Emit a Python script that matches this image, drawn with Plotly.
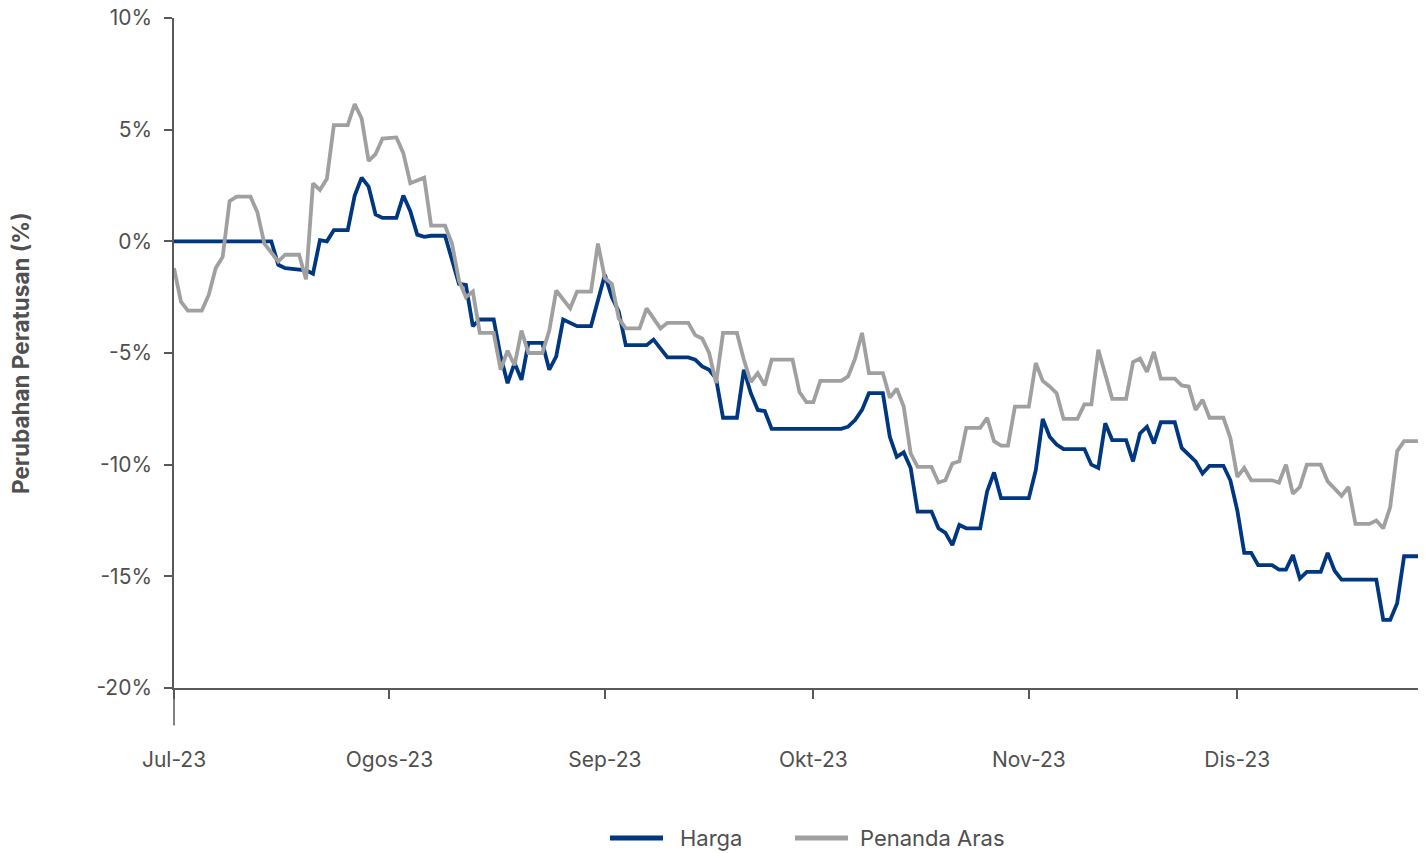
import plotly.graph_objects as go

# ---- data ----
harga_dates = [
    "2023-07-01", "2023-07-15", "2023-07-16", "2023-07-17", "2023-07-20", "2023-07-21", "2023-07-22",
    "2023-07-23", "2023-07-24", "2023-07-26", "2023-07-27", "2023-07-28", "2023-07-29", "2023-07-30",
    "2023-07-31", "2023-08-02", "2023-08-03", "2023-08-04", "2023-08-05", "2023-08-06", "2023-08-07",
    "2023-08-09", "2023-08-11", "2023-08-12", "2023-08-13", "2023-08-14", "2023-08-16", "2023-08-17",
    "2023-08-18", "2023-08-19", "2023-08-20", "2023-08-21", "2023-08-23", "2023-08-24", "2023-08-25",
    "2023-08-26", "2023-08-28", "2023-08-30", "2023-09-01", "2023-09-02", "2023-09-03", "2023-09-04",
    "2023-09-07", "2023-09-08", "2023-09-10", "2023-09-13", "2023-09-14", "2023-09-15", "2023-09-16",
    "2023-09-17", "2023-09-18", "2023-09-20", "2023-09-21", "2023-09-22", "2023-09-23", "2023-09-24",
    "2023-09-25", "2023-10-05", "2023-10-06", "2023-10-07", "2023-10-08", "2023-10-09", "2023-10-11",
    "2023-10-12", "2023-10-13", "2023-10-14", "2023-10-15", "2023-10-16", "2023-10-18", "2023-10-19",
    "2023-10-20", "2023-10-21", "2023-10-22", "2023-10-23", "2023-10-25", "2023-10-26", "2023-10-27",
    "2023-10-28", "2023-11-01", "2023-11-02", "2023-11-03", "2023-11-04", "2023-11-05", "2023-11-06",
    "2023-11-09", "2023-11-10", "2023-11-11", "2023-11-12", "2023-11-13", "2023-11-15", "2023-11-16",
    "2023-11-17", "2023-11-18", "2023-11-19", "2023-11-20", "2023-11-22", "2023-11-23", "2023-11-24",
    "2023-11-25", "2023-11-26", "2023-11-27", "2023-11-29", "2023-11-30", "2023-12-01", "2023-12-02",
    "2023-12-03", "2023-12-04", "2023-12-06", "2023-12-07", "2023-12-08", "2023-12-09", "2023-12-10",
    "2023-12-11", "2023-12-13", "2023-12-14", "2023-12-15", "2023-12-16", "2023-12-21", "2023-12-22",
    "2023-12-23", "2023-12-24", "2023-12-25", "2023-12-27",
]
harga_values = [
    0.0, 0.0, -1.05, -1.2, -1.3, -1.45, 0.05,
    0.0, 0.5, 0.5, 2.05, 2.85, 2.45, 1.2,
    1.05, 1.05, 2.05, 1.35, 0.3, 0.2, 0.25,
    0.25, -1.9, -1.95, -3.8, -3.5, -3.5, -5.15,
    -6.35, -5.45, -6.2, -4.55, -4.55, -5.75, -5.15,
    -3.5, -3.8, -3.8, -1.5, -2.5, -3.15, -4.65,
    -4.65, -4.4, -5.2, -5.2, -5.3, -5.6, -5.75,
    -6.15, -7.9, -7.9, -5.75, -6.8, -7.55, -7.6,
    -8.4, -8.4, -8.3, -8.0, -7.55, -6.8, -6.8,
    -8.75, -9.65, -9.45, -10.15, -12.1, -12.1, -12.85,
    -13.05, -13.6, -12.7, -12.85, -12.85, -11.2, -10.35,
    -11.5, -11.5, -10.25, -7.95, -8.75, -9.1, -9.3,
    -9.3, -10.0, -10.15, -8.15, -8.9, -8.9, -9.85,
    -8.6, -8.3, -9.05, -8.1, -8.1, -9.25, -9.55,
    -9.85, -10.4, -10.05, -10.05, -10.7, -12.05, -13.95,
    -13.95, -14.5, -14.5, -14.7, -14.7, -14.05, -15.1,
    -14.8, -14.8, -13.95, -14.75, -15.15, -15.15, -16.95,
    -16.95, -16.2, -14.1, -14.1,
]

aras_dates = [
    "2023-07-01", "2023-07-02", "2023-07-03", "2023-07-05", "2023-07-06", "2023-07-07", "2023-07-08",
    "2023-07-09", "2023-07-10", "2023-07-12", "2023-07-13", "2023-07-14", "2023-07-15", "2023-07-16",
    "2023-07-17", "2023-07-19", "2023-07-20", "2023-07-21", "2023-07-22", "2023-07-23", "2023-07-24",
    "2023-07-26", "2023-07-27", "2023-07-28", "2023-07-29", "2023-07-30", "2023-07-31", "2023-08-02",
    "2023-08-03", "2023-08-04", "2023-08-06", "2023-08-07", "2023-08-09", "2023-08-10", "2023-08-11",
    "2023-08-12", "2023-08-13", "2023-08-14", "2023-08-16", "2023-08-17", "2023-08-18", "2023-08-19",
    "2023-08-20", "2023-08-21", "2023-08-23", "2023-08-24", "2023-08-25", "2023-08-27", "2023-08-28",
    "2023-08-30", "2023-08-31", "2023-09-01", "2023-09-02", "2023-09-03", "2023-09-04", "2023-09-06",
    "2023-09-07", "2023-09-08", "2023-09-09", "2023-09-10", "2023-09-13", "2023-09-14", "2023-09-15",
    "2023-09-16", "2023-09-17", "2023-09-18", "2023-09-20", "2023-09-21", "2023-09-22", "2023-09-23",
    "2023-09-24", "2023-09-25", "2023-09-28", "2023-09-29", "2023-09-30", "2023-10-01", "2023-10-02",
    "2023-10-05", "2023-10-06", "2023-10-07", "2023-10-08", "2023-10-09", "2023-10-11", "2023-10-12",
    "2023-10-13", "2023-10-14", "2023-10-15", "2023-10-16", "2023-10-18", "2023-10-19", "2023-10-20",
    "2023-10-21", "2023-10-22", "2023-10-23", "2023-10-25", "2023-10-26", "2023-10-27", "2023-10-28",
    "2023-10-29", "2023-10-30", "2023-11-01", "2023-11-02", "2023-11-03", "2023-11-04", "2023-11-05",
    "2023-11-06", "2023-11-08", "2023-11-09", "2023-11-10", "2023-11-11", "2023-11-12", "2023-11-13",
    "2023-11-15", "2023-11-16", "2023-11-17", "2023-11-18", "2023-11-19", "2023-11-20", "2023-11-22",
    "2023-11-23", "2023-11-24", "2023-11-25", "2023-11-26", "2023-11-27", "2023-11-29", "2023-11-30",
    "2023-12-01", "2023-12-02", "2023-12-03", "2023-12-06", "2023-12-07", "2023-12-08", "2023-12-09",
    "2023-12-10", "2023-12-11", "2023-12-13", "2023-12-14", "2023-12-15", "2023-12-16", "2023-12-17",
    "2023-12-18", "2023-12-20", "2023-12-21", "2023-12-22", "2023-12-23", "2023-12-24", "2023-12-25",
    "2023-12-27",
]
aras_values = [
    -1.2, -2.7, -3.1, -3.1, -2.4, -1.2, -0.7,
    1.8, 2.0, 2.0, 1.3, -0.1, -0.5, -0.9,
    -0.6, -0.6, -1.7, 2.6, 2.3, 2.8, 5.2,
    5.2, 6.15, 5.5, 3.6, 3.9, 4.6, 4.65,
    3.95, 2.6, 2.85, 0.7, 0.7, -0.1, -1.75,
    -2.5, -2.25, -4.1, -4.1, -5.75, -4.9, -5.55,
    -4.0, -5.0, -5.0, -4.0, -2.2, -3.0, -2.25,
    -2.25, -0.1, -1.65, -1.9, -3.45, -3.9, -3.9,
    -3.0, -3.45, -3.9, -3.65, -3.65, -4.2, -4.35,
    -5.0, -6.35, -4.1, -4.1, -5.3, -6.3, -5.9,
    -6.45, -5.3, -5.3, -6.75, -7.2, -7.2, -6.25,
    -6.25, -6.05, -5.25, -4.1, -5.9, -5.9, -7.0,
    -6.6, -7.4, -9.5, -10.1, -10.1, -10.8, -10.7,
    -9.95, -9.85, -8.35, -8.35, -7.9, -8.95, -9.15,
    -9.15, -7.4, -7.4, -5.45, -6.25, -6.5, -6.8,
    -7.95, -7.95, -7.3, -7.3, -4.85, -5.9, -7.05,
    -7.05, -5.4, -5.25, -5.85, -4.95, -6.15, -6.15,
    -6.45, -6.5, -7.55, -7.1, -7.9, -7.9, -8.8,
    -10.55, -10.15, -10.7, -10.7, -10.8, -10.0, -11.3,
    -11.0, -10.0, -10.0, -10.75, -11.1, -11.4, -11.0,
    -12.65, -12.65, -12.5, -12.85, -11.9, -9.4, -8.95,
    -8.95,
]

month_ticks = ["2023-07-01", "2023-08-01", "2023-09-01", "2023-10-01", "2023-11-01", "2023-12-01"]
month_labels = ["Jul-23", "Ogos-23", "Sep-23", "Okt-23", "Nov-23", "Dis-23"]
y_ticks = [10, 5, 0, -5, -10, -15, -20]
y_labels = ["10%", "5%", "0%", "-5%", "-10%", "-15%", "-20%"]

series_names = ["Harga", "Penanda Aras"]
BLUE = "#003781"
GREY = "#A0A0A0"
AXIS = "#595959"
TEXT = "#505050"
FONT = "Inter"

fig = go.Figure()
fig.add_trace(go.Scatter(x=harga_dates, y=harga_values, mode="lines", name=series_names[0],
                         line=dict(color=BLUE, width=3.8), showlegend=False))
fig.add_trace(go.Scatter(x=aras_dates, y=aras_values, mode="lines", name=series_names[1],
                         line=dict(color=GREY, width=3.8), showlegend=False))

fig.update_layout(
    width=1425, height=853, autosize=False,
    margin=dict(l=174, r=7, t=18, b=165),
    paper_bgcolor="white", plot_bgcolor="white",
    font=dict(family=FONT, color=TEXT, size=21),
    showlegend=False,
    xaxis=dict(type="date", range=["2023-07-01", "2023-12-27"], automargin=False,
               tickvals=month_ticks, ticktext=month_labels,
               showgrid=False, zeroline=False, showline=True, linecolor=AXIS, linewidth=1.5,
               ticks="outside", ticklen=9, tickwidth=1.5, tickcolor=AXIS,
               ticklabelstandoff=43, tickfont=dict(size=21, color=TEXT)),
    yaxis=dict(range=[-20, 10], tickvals=y_ticks, ticktext=y_labels, automargin=False,
               showgrid=False, zeroline=False, showline=True, linecolor=AXIS, linewidth=1.5,
               ticks="outside", ticklen=8, tickwidth=1.5, tickcolor=AXIS,
               ticklabelstandoff=8, tickfont=dict(size=21, color=TEXT)),
)

# y-axis line continues below the x-axis
fig.add_shape(type="line", xref="paper", yref="paper", x0=0, x1=0, y0=0, y1=-0.056,
              line=dict(color=AXIS, width=1.5))

fig.add_annotation(text="<b>Perubahan Peratusan (%)</b>", xref="paper", yref="paper",
                   x=-0.1238, y=0.5, xanchor="center", yanchor="middle", textangle=-90,
                   showarrow=False, font=dict(size=22.5, color=TEXT, family=FONT))

# legend drawn below the plot
legend_colors = [BLUE, GREY]
legend_line_x = [(0.3505, 0.3931), (0.4992, 0.5418)]
legend_text_x = [0.4051, 0.5498]
legend_y = -0.2239
for name, col, (lx0, lx1), tx in zip(series_names, legend_colors, legend_line_x, legend_text_x):
    fig.add_shape(type="line", xref="paper", yref="paper", x0=lx0, x1=lx1, y0=legend_y, y1=legend_y,
                  line=dict(color=col, width=5))
    fig.add_annotation(text=name, xref="paper", yref="paper", x=tx, y=legend_y,
                       xanchor="left", yanchor="middle", showarrow=False,
                       font=dict(size=22, color=TEXT, family=FONT))

fig.write_html("out.html", config={"displayModeBar": False},
               post_script="document.body.style.margin='0px';document.body.style.overflow='hidden';")
